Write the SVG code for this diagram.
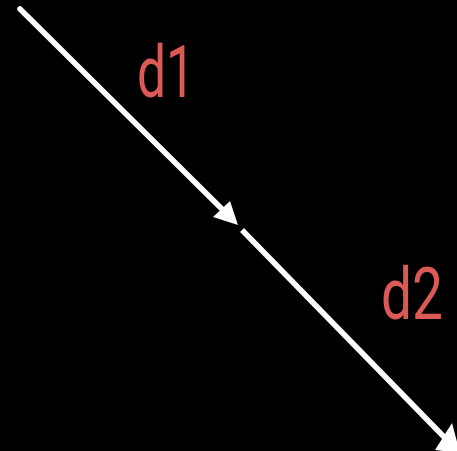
<svg xmlns="http://www.w3.org/2000/svg" width="457" height="451" viewBox="0 0 457 451">
<style>
.edge{stroke:#fff;stroke-width:5.5;fill:none;}
.head{fill:#fff;}
.lbl{font-family:Roboto,"Liberation Sans",sans-serif;font-size:72px;fill:#dc5a55;}
</style>
<rect width="457" height="451" fill="#000"/>
<g id="connectors">
<path class="edge" d="M20,9 L226,213" stroke-linecap="round"/>
<path class="head" d="M238,225 L213,217 L230,201 Z"/>
<path class="edge" d="M242,230 L448,441"/>
<path class="head" d="M460,453 L435,450 L452,423 Z"/>
</g>
<g id="d1"><text class="lbl" x="137" y="97" textLength="58" lengthAdjust="spacingAndGlyphs">d1</text></g>
<g id="d2"><text class="lbl" x="381" y="319" textLength="62" lengthAdjust="spacingAndGlyphs">d2</text></g>
</svg>
